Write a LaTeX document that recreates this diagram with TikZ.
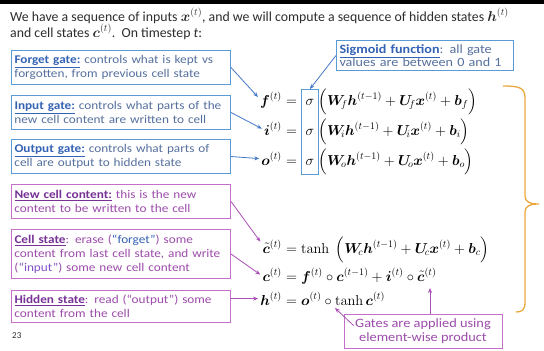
\documentclass[tikz,border=0pt]{standalone}
\usepackage{amsmath,bm}
\usepackage[no-math]{fontspec}
\setmainfont{Carlito}
\newfontfamily\boxfont{Carlito}[FakeStretch=1.12]
\usetikzlibrary{arrows.meta,fit,calc}
\definecolor{bframe}{RGB}{91,155,213}
\definecolor{blab}{RGB}{52,98,180}
\definecolor{btext}{RGB}{86,112,158}
\definecolor{pframe}{RGB}{196,112,200}
\definecolor{plab}{RGB}{120,50,150}
\definecolor{ptext}{RGB}{156,76,170}
\definecolor{pinput}{RGB}{130,80,200}
\definecolor{parrow}{RGB}{170,80,180}
\definecolor{barrow}{RGB}{70,120,200}
\definecolor{titlegray}{RGB}{45,45,45}
\definecolor{bracecol}{RGB}{236,168,62}
\newcommand\glab[1]{\textcolor{blab}{\underline{\textbf{#1}}}}
\newcommand\plab[1]{\textcolor{plab}{\underline{\textbf{#1}}}}
\begin{document}
\begin{tikzpicture}[x=1pt,y=-1pt,
  titletext/.style={inner sep=0pt, text=titlegray, font=\fontsize{13.8}{15}\selectfont},
  gbox/.style={draw=bframe, line width=1pt, text width=213pt, minimum height=34pt, align=left, inner xsep=3pt, inner ysep=2pt, anchor=north west, font=\boxfont\fontsize{11.8}{14.2}\selectfont, text=btext},
  pbox/.style={gbox, draw=pframe, text=ptext},
  eq/.style={inner sep=0pt, font=\fontsize{14.3}{16}\selectfont},
  barr/.style={draw=barrow, line width=0.8pt, -{Stealth[length=5pt,width=4pt]}},
  parr/.style={draw=parrow, line width=0.8pt, -{Stealth[length=5pt,width=4pt]}},
]
\useasboundingbox (0,0) rectangle (544,351);
\fill[white] (0,0) rectangle (544,351);
\fill[black] (0,0) rectangle (544,4);

% title
\node[titletext, anchor=base west] (t1) at (10,21) {We have a sequence of inputs $\bm{x}^{(t)}$, and we will compute a sequence of hidden states $\bm{h}^{(t)}$};
\node[titletext, anchor=base west] (t2) at (10,37) {and cell states $\bm{c}^{(t)}$.\ \ On timestep \textit{t}:};

% left boxes
\node[gbox] (fbox) at (11,50) {\glab{Forget gate:} controls what is kept vs\\forgotten, from previous cell state};
\node[gbox] (ibox) at (11,95) {\glab{Input gate:} controls what parts of the\\new cell content are written to cell};
\node[gbox] (obox) at (11,139) {\glab{Output gate:} controls what parts of\\cell are output to hidden state};
\node[pbox] (nbox) at (11,184) {\plab{New cell content:} this is the new\\content to be written to the cell};
\node[pbox, minimum height=49pt] (cbox) at (11,229) {\plab{Cell state}: erase (\textcolor{blab}{“forget”}) some\\content from last cell state, and write\\(\textcolor{pinput}{“input”}) some new cell content};
\node[pbox, minimum height=32pt] (hbox) at (11,290) {\plab{Hidden state}: read (“output”) some\\content from the cell};

% sigmoid box
\node[gbox, text width=171pt, minimum height=30pt, font=\boxfont\fontsize{12.6}{13.5}\selectfont] (sbox) at (336,40) {\glab{Sigmoid function}: all gate\\values are between 0 and 1};

% equations
\node[eq, anchor=base east] (fl) at (282,105) {$\bm{f}^{(t)}$};
\node[eq, anchor=base west] (fe) at (fl.base east) {${}={}$};
\node[eq, anchor=base west] (fs) at (fe.base east) {$\;\sigma\;$};
\node[eq, anchor=base west] (fp) at (fs.base east) {$\Big(\bm{W}_{\!f}\bm{h}^{(t-1)}+\bm{U}_{\!f}\bm{x}^{(t)}+\bm{b}_f\Big)$};

\node[eq, anchor=base east] (il) at (282,135) {$\bm{i}^{(t)}$};
\node[eq, anchor=base west] (ie) at (il.base east) {${}={}$};
\node[eq, anchor=base west] (is) at (ie.base east) {$\;\sigma\;$};
\node[eq, anchor=base west] (ip) at (is.base east) {$\Big(\bm{W}_{\!i}\bm{h}^{(t-1)}+\bm{U}_{\!i}\bm{x}^{(t)}+\bm{b}_i\Big)$};

\node[eq, anchor=base east] (ol) at (282,165) {$\bm{o}^{(t)}$};
\node[eq, anchor=base west] (oe) at (ol.base east) {${}={}$};
\node[eq, anchor=base west] (os) at (oe.base east) {$\;\sigma\;$};
\node[eq, anchor=base west] (op) at (os.base east) {$\Big(\bm{W}_{\!o}\bm{h}^{(t-1)}+\bm{U}_{\!o}\bm{x}^{(t)}+\bm{b}_o\Big)$};

\node[draw=bframe, line width=1pt, inner xsep=0pt, inner ysep=9pt, fit=(fs)(os)] (sfit) {};

\node[eq, anchor=base east] (ctl) at (282,253) {$\tilde{\bm{c}}^{(t)}$};
\node[eq, anchor=base west] (ctr) at (ctl.base east) {${}=\tanh\;\Big(\bm{W}_{\!c}\bm{h}^{(t-1)}+\bm{U}_{\!c}\bm{x}^{(t)}+\bm{b}_c\Big)$};

\node[eq, anchor=base east] (cl) at (282,281) {$\bm{c}^{(t)}$};
\node[eq, anchor=base west] (cr) at (cl.base east) {${}=\bm{f}^{(t)}\circ\bm{c}^{(t-1)}+\bm{i}^{(t)}\circ\tilde{\bm{c}}^{(t)}$};

\node[eq, anchor=base east] (hl) at (282,305) {$\bm{h}^{(t)}$};
\node[eq, anchor=base west] (hr) at (hl.base east) {${}=\bm{o}^{(t)}\circ\tanh\bm{c}^{(t)}$};

% gates box
\node[draw=pframe, line width=1pt, minimum width=158pt, minimum height=34pt, align=center, text=ptext, font=\boxfont\fontsize{12.8}{14.5}\selectfont] (gates) at (423,331) {Gates are applied using\\element-wise product};

% brace
\draw[bracecol, line width=1.3pt] (503,86) .. controls (520,86) and (525,88) .. (525,98) -- (525,196) .. controls (525,202) and (530,204) .. (539,204) .. controls (530,204) and (525,206) .. (525,212) -- (525,302) .. controls (525,310) and (522,312) .. (516,312);

% arrows
\draw[barr] (fbox.east) -- ([xshift=-2pt,yshift=3pt]fl.west);
\draw[barr] (ibox.east) -- ([xshift=-2pt]il.west);
\draw[barr] (obox.east) -- ([xshift=-2pt]ol.west);
\draw[barr] (sbox.west) -- (sfit.north);
\draw[parr] (nbox.east) -- ([xshift=-2pt,yshift=5pt]ctl.west);
\draw[parr] (cbox.east) -- ([xshift=-2pt]cl.west);
\draw[parr] (hbox.east |- hl.west) -- ([xshift=-2pt]hl.west);
\coordinate (tipc) at (430,288);
\coordinate (tiph) at (335,308);
\draw[parr] (gates.north -| tipc) -- (tipc);
\draw[parr] ([xshift=10pt,yshift=-12pt]gates.north west) -- (tiph);

\node[inner sep=0pt, anchor=base west, text=titlegray, font=\fontsize{9}{10}\selectfont] (pg) at (12,338) {23};
\end{tikzpicture}
\end{document}
